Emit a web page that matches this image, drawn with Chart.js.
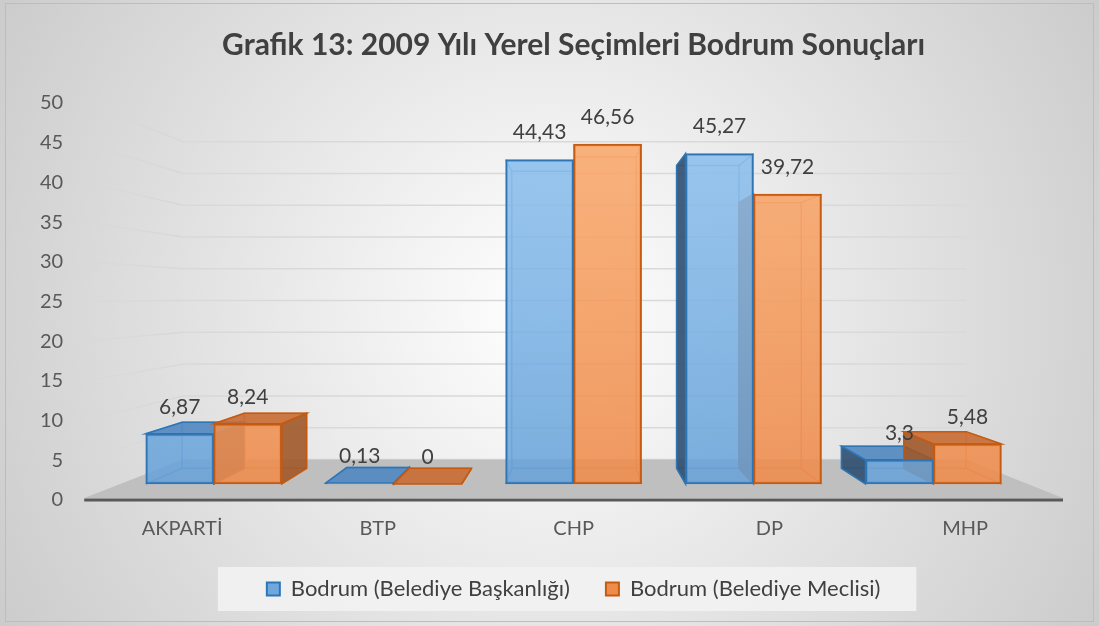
<!DOCTYPE html>
<html>
<head>
<meta charset="utf-8">
<script src="https://cdn.jsdelivr.net/npm/chart.js@4"></script>
<style>
  html, body { margin: 0; padding: 0; background: #fff; }
  #wrap { width: 1099px; height: 626px; }
</style>
</head>
<body>
<div id="wrap"><canvas id="chart" width="1099" height="626"></canvas></div>
<script>
// veriler
const parties = ['AKPARTİ', 'BTP', 'CHP', 'DP', 'MHP'];
const baskanlik = [6.87, 0.13, 44.43, 45.27, 3.3];
const meclis = [8.24, 0, 46.56, 39.72, 5.48];
const seriesNames = ['Bodrum (Belediye Başkanlığı)', 'Bodrum (Belediye Meclisi)'];
const yMin = 0, yMax = 50, yStep = 5;
const chartTitle = 'Grafik 13: 2009 Yılı Yerel Seçimleri Bodrum Sonuçları';

// perspektif düzlemleri (ön eksen düzlemine göre oran)
const PLANE_BAR = 0.92, PLANE_BAR_BACK = 0.843, PLANE_WALL = 0.8;
const FONT = 'Lato, "Open Sans", sans-serif';

const faces = [
  { top: 'rgba(80,135,192,0.9)', side: 'rgba(45,78,112,0.9)', line: '#2E75B6' },
  { top: 'rgba(200,108,50,0.9)', side: 'rgba(160,88,40,0.9)', line: '#C55A11' }
];

function vanish(ca) { return { x: ca.left + 495, y: ca.top + 194 }; }
function proj(p, v, s) { return { x: v.x + (p.x - v.x) * s, y: v.y + (p.y - v.y) * s }; }

function frontFill(top, bottom) {
  return (c) => {
    const ca = c.chart.chartArea;
    if (!ca) return bottom;
    const g = c.chart.ctx.createLinearGradient(0, ca.top, 0, ca.bottom);
    g.addColorStop(0, top);
    g.addColorStop(1, bottom);
    return g;
  };
}

function poly(ctx, pts, fill, stroke) {
  ctx.beginPath();
  ctx.moveTo(pts[0].x, pts[0].y);
  for (let i = 1; i < pts.length; i++) ctx.lineTo(pts[i].x, pts[i].y);
  ctx.closePath();
  if (fill) { ctx.fillStyle = fill; ctx.fill(); }
  if (stroke) { ctx.strokeStyle = stroke; ctx.lineWidth = 1.5; ctx.stroke(); }
}

function seg(ctx, a, b) {
  ctx.beginPath(); ctx.moveTo(a.x, a.y); ctx.lineTo(b.x, b.y); ctx.stroke();
}

const scene3d = {
  id: 'scene3d',
  beforeDraw(chart) {
    const { ctx, width, height } = chart;
    ctx.save();
    const g = ctx.createRadialGradient(width / 2, height / 2, 0, width / 2, height / 2, 640);
    g.addColorStop(0, '#ffffff');
    g.addColorStop(1, '#cbcbcb');
    ctx.fillStyle = g;
    ctx.fillRect(0, 0, width, height);
    ctx.strokeStyle = '#bdbdbd';
    ctx.lineWidth = 1;
    ctx.strokeRect(5.5, 3.5, width - 11, height - 8);

    // lejant kutusu
    const boxes = chart.legend.legendHitBoxes;
    if (boxes && boxes.length) {
      const first = boxes[0], last = boxes[boxes.length - 1];
      const cy = first.top + first.height / 2;
      ctx.fillStyle = 'rgba(242,242,242,0.9)';
      ctx.fillRect(first.left - 49, cy - 22, last.left + last.width - first.left + 85, 44);
    }
    ctx.restore();
  },
  beforeDatasetsDraw(chart) {
    const { ctx, chartArea: ca } = chart;
    const yS = chart.scales.y;
    const v = vanish(ca);
    ctx.save();

    // duvar çizgileri
    yS.ticks.forEach(t => {
      const fy = yS.getPixelForValue(t.value);
      const f = { x: ca.left, y: fy };
      const c = proj(f, v, PLANE_WALL);
      const r = proj({ x: ca.right, y: fy }, v, PLANE_WALL);
      const lg = ctx.createLinearGradient(ca.left, 0, c.x, 0);
      lg.addColorStop(0, 'rgba(215,215,215,0.25)');
      lg.addColorStop(1, 'rgba(215,215,215,1)');
      ctx.lineWidth = 1.5;
      ctx.strokeStyle = lg;
      seg(ctx, f, c);
      ctx.strokeStyle = '#d9d9d9';
      seg(ctx, c, { x: r.x, y: c.y });
    });

    // zemin
    const y0 = yS.getPixelForValue(0);
    const bl = proj({ x: ca.left, y: y0 }, v, PLANE_WALL);
    const br = proj({ x: ca.right, y: y0 }, v, PLANE_WALL);
    poly(ctx, [{ x: ca.left, y: y0 - 2 }, { x: ca.right, y: y0 - 2 }, br, bl], '#bfbfbf');
    ctx.strokeStyle = '#595959';
    ctx.lineWidth = 3;
    seg(ctx, { x: ca.left, y: y0 }, { x: ca.right, y: y0 });

    // çubukların arka kenarları, üst ve yan yüzleri
    const k = PLANE_BAR_BACK / PLANE_BAR;
    const back = p => proj(p, v, k);
    chart.data.datasets.forEach((ds, di) => {
      const f = faces[di];
      chart.getDatasetMeta(di).data.forEach(el => {
        const { x, y, base, width } = el.getProps(['x', 'y', 'base', 'width'], true);
        const xl = x - width / 2, xr = x + width / 2;
        const tl = { x: xl, y }, tr = { x: xr, y }, bL = { x: xl, y: base }, bR = { x: xr, y: base };
        const B = { tl: back(tl), tr: back(tr), bl: back(bL), br: back(bR) };

        ctx.globalAlpha = 0.55;
        poly(ctx, [B.tl, B.tr, B.br, B.bl], null, f.line);
        ctx.lineWidth = 1.5;
        ctx.strokeStyle = f.line;
        seg(ctx, tl, B.tl); seg(ctx, tr, B.tr); seg(ctx, bL, B.bl); seg(ctx, bR, B.br);
        ctx.globalAlpha = 1;

        if (xr < v.x) poly(ctx, [tr, B.tr, B.br, bR], f.side, f.line);
        if (xl > v.x) poly(ctx, [tl, B.tl, B.bl, bL], f.side, f.line);
        if (B.tl.y < y) poly(ctx, [tl, tr, B.tr, B.tl], f.top, f.line);
      });
    });
    ctx.restore();
  },
  afterDatasetsDraw(chart) {
    const { ctx } = chart;
    ctx.save();
    ctx.font = '21px ' + FONT;
    ctx.fillStyle = '#404040';
    ctx.textAlign = 'center';
    ctx.textBaseline = 'middle';
    chart.data.datasets.forEach((ds, di) => {
      chart.getDatasetMeta(di).data.forEach((el, i) => {
        const val = ds.data[i].y;
        ctx.fillText(String(val).replace('.', ','), el.x, el.y - 27);
      });
    });
    ctx.restore();
  }
};

const toPoints = arr => arr.map((val, i) => ({ x: i, y: val }));

new Chart(document.getElementById('chart'), {
  type: 'bar',
  data: {
    datasets: [
      {
        label: seriesNames[0],
        data: toPoints(baskanlik),
        xAxisID: 'xb', yAxisID: 'yb',
        backgroundColor: frontFill('rgba(142,194,240,0.85)', 'rgba(100,160,216,0.85)'),
        borderColor: faces[0].line,
        borderWidth: 2,
        borderSkipped: false
      },
      {
        label: seriesNames[1],
        data: toPoints(meclis),
        xAxisID: 'xb', yAxisID: 'yb',
        backgroundColor: frontFill('rgba(251,172,112,0.88)', 'rgba(238,138,74,0.88)'),
        borderColor: faces[1].line,
        borderWidth: 2,
        borderSkipped: false
      }
    ]
  },
  options: {
    responsive: false,
    animation: false,
    devicePixelRatio: 1,
    layout: { padding: { left: 19, right: 36, top: 0, bottom: 16 } },
    datasets: { bar: { barThickness: 68 } },
    plugins: {
      title: {
        display: true,
        fullSize: false,
        text: chartTitle,
        color: '#404040',
        font: { family: FONT, size: 30, weight: 'bold' },
        padding: { top: 27, bottom: 40 }
      },
      legend: {
        position: 'bottom',
        fullSize: false,
        labels: {
          color: '#404040',
          font: { family: FONT, size: 22 },
          boxWidth: 13,
          boxHeight: 13,
          padding: 36,
          generateLabels: (chart) => {
            const fills = ['#6FA8DC', '#F08C4A'];
            return Chart.defaults.plugins.legend.labels.generateLabels(chart).map((l, i) => {
              l.fillStyle = fills[i];
              l.strokeStyle = faces[i].line;
              l.lineWidth = 2;
              return l;
            });
          }
        }
      },
      tooltip: { enabled: false }
    },
    scales: {
      x: {
        type: 'category',
        labels: parties,
        grid: { display: false, drawTicks: false },
        border: { display: false },
        ticks: { color: '#595959', font: { family: FONT, size: 20 }, padding: 17 },
        afterFit: (scale) => { scale.height = 42; }
      },
      xb: {
        type: 'linear',
        display: false,
        offset: false,
        min: -0.72,
        max: 4.72
      },
      y: {
        min: yMin,
        max: yMax,
        grid: { display: false, drawTicks: false },
        border: { display: false },
        ticks: { stepSize: yStep, color: '#595959', font: { family: FONT, size: 20 }, padding: 21 }
      },
      yb: {
        display: false,
        min: -2.2,
        max: 52.2
      }
    }
  },
  plugins: [scene3d]
});
</script>
</body>
</html>
